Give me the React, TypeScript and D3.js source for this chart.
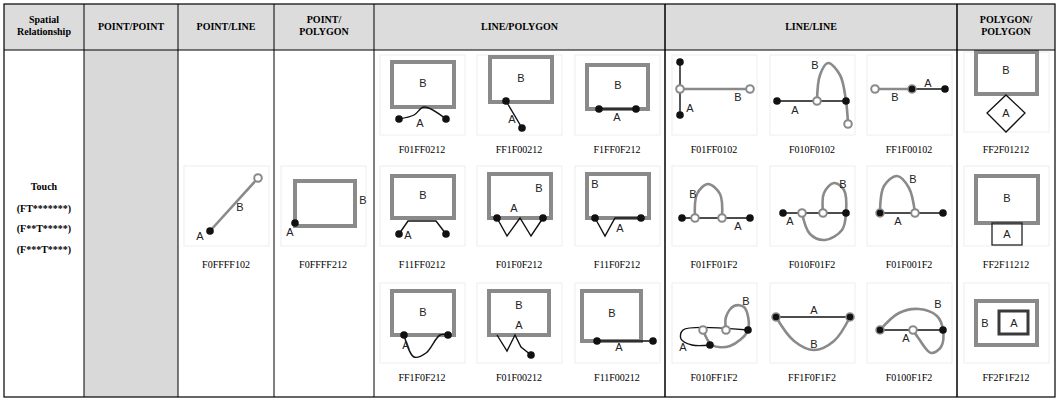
import React from "react";
import * as d3 from "d3";

// header / category text
const headers = [
  ["Spatial", "Relationship"],
  ["POINT/POINT"],
  ["POINT/LINE"],
  ["POINT/", "POLYGON"],
  ["LINE/POLYGON"],
  ["LINE/LINE"],
  ["POLYGON/", "POLYGON"],
];
const relationLabels = ["Touch", "(FT*******)", "(F**T*****)", "(F***T****)"];
const colEdges = [4, 84, 178, 274, 374, 665, 957, 1055];

// DE-9IM codes per group
const pointLineCodes = ["F0FFFF102"];
const pointPolyCodes = ["F0FFFF212"];
const linePolyCodes = [
  "F01FF0212", "FF1F00212", "F1FF0F212",
  "F11FF0212", "F01F0F212", "F11F0F212",
  "FF1F0F212", "F01F00212", "F11F00212",
];
const lineLineCodes = [
  "F01FF0102", "F010F0102", "FF1F00102",
  "F01FF01F2", "F010F01F2", "F01F001F2",
  "F010FF1F2", "FF1F0F1F2", "F0100F1F2",
];
const polyPolyCodes = ["FF2F01212", "FF2F11212", "FF2F1F212"];

type P = [number, number];
type El =
  | { t: "rect"; a: P; b: P; k: "A" | "B" | "AA" }
  | { t: "path"; pts: P[]; k: "A" | "B"; smooth?: boolean }
  | { t: "poly"; pts: P[] }
  | { t: "dot" | "open" | "ring"; p: P }
  | { t: "txt"; p: P; s: string };

const T = (p: P, s: string): El => ({ t: "txt", p, s });

// local diagram shapes (85 x 80 cell units)
const pointLineShapes: El[][] = [[
  { t: "path", pts: [[26, 65], [74, 12]], k: "B" },
  { t: "dot", p: [26, 65] }, { t: "open", p: [74, 12] },
  T([56, 45], "B"), T([16, 74], "A"),
]];
const pointPolyShapes: El[][] = [[
  { t: "rect", a: [14, 15], b: [74, 60], k: "B" },
  { t: "dot", p: [14, 57] }, T([82, 38], "B"), T([9, 70], "A"),
]];
const linePolyShapes: El[][] = [
  [{ t: "rect", a: [12, 7], b: [74, 52], k: "B" }, T([43, 32], "B"),
   { t: "path", pts: [[19, 64], [34, 60], [44, 52], [66, 64]], k: "A", smooth: true },
   { t: "dot", p: [19, 64] }, { t: "dot", p: [66, 64] }, T([40, 72], "A")],
  [{ t: "rect", a: [13, 2], b: [75, 47], k: "B" }, T([44, 27], "B"),
   { t: "path", pts: [[29, 46], [45, 73]], k: "A" },
   { t: "dot", p: [29, 46] }, { t: "dot", p: [45, 73] }, T([35, 68], "A")],
  [{ t: "rect", a: [12, 10], b: [73, 54], k: "B" }, T([43, 34], "B"),
   { t: "path", pts: [[24, 54], [61, 54]], k: "A" },
   { t: "dot", p: [24, 54] }, { t: "dot", p: [61, 54] }, T([42, 66], "A")],
  [{ t: "rect", a: [12, 10], b: [74, 52], k: "B" }, T([43, 33], "B"),
   { t: "path", pts: [[19, 68], [28, 55], [56, 55], [66, 68]], k: "A" },
   { t: "dot", p: [19, 68] }, { t: "dot", p: [66, 68] }, T([28, 73], "A")],
  [{ t: "rect", a: [12, 8], b: [74, 52], k: "B" }, T([62, 26], "B"), T([37, 46], "A"),
   { t: "path", pts: [[20, 52], [30, 70], [43, 52], [54, 70], [66, 52]], k: "A" },
   { t: "dot", p: [20, 52] }, { t: "dot", p: [66, 52] }],
  [{ t: "rect", a: [12, 8], b: [74, 52], k: "B" }, T([20, 22], "B"),
   { t: "path", pts: [[20, 52], [30, 70], [40, 52], [66, 52]], k: "A" },
   { t: "dot", p: [20, 52] }, { t: "dot", p: [66, 52] }, T([45, 66], "A")],
  [{ t: "rect", a: [12, 8], b: [74, 52], k: "B" }, T([43, 33], "B"),
   { t: "path", pts: [[24, 52], [34, 74], [46, 70], [60, 52], [68, 52]], k: "A", smooth: true },
   { t: "dot", p: [24, 52] }, { t: "dot", p: [68, 52] }, T([26, 66], "A")],
  [{ t: "rect", a: [12, 8], b: [72, 52], k: "B" }, T([42, 26], "B"), T([42, 46], "A"),
   { t: "path", pts: [[20, 52], [30, 68], [38, 52], [44, 64], [54, 72]], k: "A" },
   { t: "dot", p: [54, 72] }],
  [{ t: "rect", a: [7, 8], b: [66, 58], k: "B" }, T([37, 34], "B"),
   { t: "path", pts: [[22, 58], [78, 58]], k: "A" },
   { t: "dot", p: [22, 58] }, { t: "dot", p: [78, 58] }, T([44, 68], "A")],
];
const lineLineShapes: El[][] = [
  [{ t: "path", pts: [[8, 34], [78, 34]], k: "B" },
   { t: "path", pts: [[8, 7], [8, 60]], k: "A" },
   { t: "dot", p: [8, 7] }, { t: "dot", p: [8, 60] }, { t: "open", p: [8, 34] }, { t: "open", p: [78, 34] },
   T([18, 57], "A"), T([66, 46], "B")],
  [{ t: "path", pts: [[7, 46], [76, 46]], k: "A" },
   { t: "path", pts: [[47, 46], [50, 20], [58, 8], [70, 20], [76, 46], [78, 69]], k: "B", smooth: true },
   { t: "dot", p: [7, 46] }, { t: "dot", p: [76, 46] }, { t: "open", p: [47, 46] }, { t: "open", p: [78, 69] },
   T([25, 59], "A"), T([45, 14], "B")],
  [{ t: "path", pts: [[8, 34], [45, 34]], k: "B" },
   { t: "path", pts: [[45, 34], [78, 34]], k: "A" },
   { t: "open", p: [8, 34] }, { t: "ring", p: [45, 34] }, { t: "dot", p: [78, 34] },
   T([61, 32], "A"), T([28, 46], "B")],
  [{ t: "path", pts: [[10, 52], [78, 52]], k: "A" },
   { t: "path", pts: [[23, 52], [25, 28], [36, 18], [48, 28], [50, 52]], k: "B", smooth: true },
   { t: "dot", p: [10, 52] }, { t: "dot", p: [78, 52] }, { t: "open", p: [23, 52] }, { t: "open", p: [50, 52] },
   T([21, 32], "B"), T([66, 64], "A")],
  [{ t: "path", pts: [[13, 47], [76, 47]], k: "A" },
   { t: "path", pts: [[32, 47], [40, 68], [55, 74], [72, 64], [76, 47], [74, 24], [64, 17], [54, 27], [53, 47]], k: "B", smooth: true },
   { t: "dot", p: [13, 47] }, { t: "dot", p: [76, 47] }, { t: "open", p: [32, 47] }, { t: "open", p: [53, 47] },
   T([73, 22], "B"), T([20, 59], "A")],
  [{ t: "path", pts: [[13, 47], [76, 47]], k: "A" },
   { t: "path", pts: [[13, 47], [17, 20], [30, 10], [42, 22], [48, 47]], k: "B", smooth: true },
   { t: "ring", p: [13, 47] }, { t: "dot", p: [76, 47] }, { t: "open", p: [48, 47] },
   T([46, 17], "B"), T([31, 59], "A")],
  [{ t: "path", pts: [[76, 47], [11, 47], [9, 56], [20, 62], [38, 62]], k: "A", smooth: true },
   { t: "path", pts: [[31, 47], [40, 62], [58, 63], [76, 47], [72, 24], [62, 23], [54, 34], [54, 47]], k: "B", smooth: true },
   { t: "dot", p: [76, 47] }, { t: "dot", p: [38, 62] }, { t: "open", p: [31, 47] }, { t: "open", p: [54, 47] },
   T([74, 22], "B"), T([11, 68], "A")],
  [{ t: "path", pts: [[6, 34], [80, 34]], k: "A" },
   { t: "path", pts: [[6, 34], [24, 58], [44, 67], [64, 58], [80, 34]], k: "B", smooth: true },
   { t: "ring", p: [6, 34] }, { t: "ring", p: [80, 34] },
   T([44, 31], "A"), T([44, 65], "B")],
  [{ t: "path", pts: [[13, 47], [76, 47]], k: "A" },
   { t: "path", pts: [[13, 47], [32, 30], [52, 26], [70, 33], [76, 47], [74, 64], [64, 70], [52, 56], [46, 47]], k: "B", smooth: true },
   { t: "ring", p: [13, 47] }, { t: "dot", p: [76, 47] }, { t: "open", p: [46, 47] },
   T([71, 25], "B"), T([39, 59], "A")],
];
const polyPolyShapes: El[][] = [
  [{ t: "rect", a: [12, 0], b: [73, 42], k: "B" }, T([42, 22], "B"),
   { t: "poly", pts: [[42, 43], [61, 61], [42, 80], [23, 61]] }, T([42, 65], "A")],
  [{ t: "rect", a: [12, 10], b: [74, 57], k: "B" }, T([43, 36], "B"),
   { t: "rect", a: [28, 57], b: [58, 79], k: "A" }, T([43, 72], "A")],
  [{ t: "rect", a: [12, 18], b: [73, 62], k: "B" }, T([21, 44], "B"),
   { t: "rect", a: [35, 28], b: [64, 51], k: "AA" }, T([50, 44], "A")],
];

const GRAY = "#8a8a8a";

const Diagram = ({ x, y, els }: { x: number; y: number; els: El[] }) => {
  const sx = d3.scaleLinear().domain([0, 85]).range([x, x + 85]);
  const sy = d3.scaleLinear().domain([0, 80]).range([y, y + 80]);
  const mk = (smooth?: boolean) =>
    d3.line<P>().x((p) => sx(p[0])).y((p) => sy(p[1])).curve(smooth ? d3.curveCatmullRom : d3.curveLinear);
  return (
    <g>
      <rect x={x} y={y} width={85} height={80} fill="#fff" stroke="#eeeeee" />
      {els.map((e, i) => {
        if (e.t === "rect") {
          const st = e.k === "B" ? { stroke: GRAY, w: 4 } : e.k === "AA" ? { stroke: "#3a3a3a", w: 3 } : { stroke: "#222", w: 1.3 };
          return <rect key={i} x={sx(e.a[0])} y={sy(e.a[1])} width={sx(e.b[0]) - sx(e.a[0])}
            height={sy(e.b[1]) - sy(e.a[1])} fill="none" stroke={st.stroke} strokeWidth={st.w} />;
        }
        if (e.t === "path")
          return <path key={i} d={mk(e.smooth)(e.pts)!} fill="none"
            stroke={e.k === "B" ? GRAY : "#111"} strokeWidth={e.k === "B" ? 2.6 : 1.4} />;
        if (e.t === "poly")
          return <path key={i} d={mk()(e.pts)! + "Z"} fill="none" stroke="#111" strokeWidth={1.3} />;
        if (e.t === "dot") return <circle key={i} cx={sx(e.p[0])} cy={sy(e.p[1])} r={3.8} fill="#111" />;
        if (e.t === "ring")
          return <circle key={i} cx={sx(e.p[0])} cy={sy(e.p[1])} r={4} fill="#111" stroke={GRAY} strokeWidth={1.5} />;
        if (e.t === "open")
          return <circle key={i} cx={sx(e.p[0])} cy={sy(e.p[1])} r={3.8} fill="#fff" stroke={GRAY} strokeWidth={2} />;
        return <text key={i} x={sx(e.p[0])} y={sy(e.p[1])} textAnchor="middle" fontFamily="Liberation Sans, Arial"
          fontSize={11} fill="#222">{e.s}</text>;
      })}
    </g>
  );
};

const rowBox = [55, 166, 283];
const rowLabel = [153, 268, 381];
const serif = "Liberation Serif, Times New Roman, serif";

export default function App() {
  const cells: React.ReactNode[] = [];
  const addCell = (key: string, x: number, r: number, els: El[], code: string, by?: number) => {
    cells.push(
      <g key={key}>
        <Diagram x={x} y={by ?? rowBox[r]} els={els} />
        <text x={x + 42} y={rowLabel[r]} textAnchor="middle" fontFamily={serif} fontSize={10}>{code}</text>
      </g>
    );
  };
  addCell("pl", 184, 1, pointLineShapes[0], pointLineCodes[0]);
  addCell("pp", 281, 1, pointPolyShapes[0], pointPolyCodes[0]);
  const lpX = [380, 477, 575];
  const llX = [672, 770, 867];
  linePolyCodes.forEach((c, i) => addCell("lp" + i, lpX[i % 3], Math.floor(i / 3), linePolyShapes[i], c));
  lineLineCodes.forEach((c, i) => addCell("ll" + i, llX[i % 3], Math.floor(i / 3), lineLineShapes[i], c));
  polyPolyCodes.forEach((c, i) => addCell("gg" + i, 964, i, polyPolyShapes[i], c, [52, 166, 283][i]));

  return (
    <svg width={1059} height={402} style={{ position: "absolute", left: 0, top: 0, background: "#fff" }}>
      <rect x={4} y={4} width={1051} height={46} fill="#dcdcdc" />
      <rect x={84} y={50} width={94} height={347} fill="#d9d9d9" />
      {headers.map((h, i) => {
        const cx = (colEdges[i] + colEdges[i + 1]) / 2;
        const y0 = h.length === 2 ? 23 : 30;
        return h.map((s, j) => (
          <text key={i + "-" + j} x={cx} y={y0 + j * 12} textAnchor="middle" fontFamily={serif}
            fontWeight="bold" fontSize={10}>{s}</text>
        ));
      })}
      {relationLabels.map((s, i) => (
        <text key={s} x={44} y={[190, 212, 232, 253][i]} textAnchor="middle" fontFamily={serif}
          fontWeight="bold" fontSize={10}>{s}</text>
      ))}
      {cells}
      {colEdges.slice(1, -1).map((x) => (
        <line key={x} x1={x} x2={x} y1={4} y2={397} stroke="#000" strokeWidth={x === 665 || x === 957 ? 1.5 : 1} />
      ))}
      <line x1={4} x2={1055} y1={50} y2={50} stroke="#000" />
      <rect x={4} y={4} width={1051} height={393} fill="none" stroke="#000" strokeWidth={1.2} />
    </svg>
  );
}
